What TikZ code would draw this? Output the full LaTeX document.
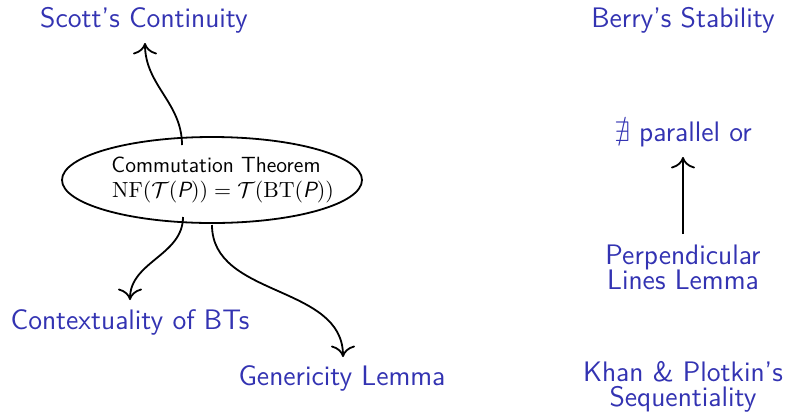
\documentclass[tikz,border=0pt]{standalone}
\usepackage{amssymb}
\usetikzlibrary{shapes.geometric,arrows.meta}
\definecolor{myblue}{RGB}{51,51,178}
\newcommand{\lblfont}{\sffamily\fontsize{14.1}{12.6}\selectfont\lineskiplimit=-20pt\relax}
\begin{document}
\begin{tikzpicture}[x=0.5pt,y=-0.5pt,
  lbl/.style={text=myblue, font=\lblfont, align=center, inner sep=0pt},
  inner/.style={font=\sffamily\fontsize{11}{12}\selectfont, inner sep=0pt, anchor=base},
  arr/.style={-{To[scale=1.6]}, line width=0.9pt}]
\useasboundingbox (0,0) rectangle (788,414);
\node[lbl] (scott) at (144,20) {Scott’s Continuity};
\node[lbl] (berry) at (683,20) {Berry’s Stability};
\node[lbl] (par) at (683,134) {$\nexists$ parallel or};
\node[lbl] (perp) at (683,267) {Perpendicular\\Lines Lemma};
\node[lbl] (ctx) at (130,322) {Contextuality of BTs};
\node[lbl] (gen) at (342,378) {Genericity Lemma};
\node[lbl] (khan) at (683,387) {Khan \& Plotkin’s\\Sequentiality};
\node[draw, line width=0.9pt, ellipse, minimum width=150pt, minimum height=43pt, inner sep=0pt] (ct) at (212,180) {};
\node[inner] (ctt) at (216,172) {Commutation Theorem};
\node[inner] (ctf) at (223,197) {$\mathrm{NF}(\mathcal{T}(\textsf{\itshape P})) = \mathcal{T}(\mathrm{BT}(\textsf{\itshape P}))$};
\coordinate (a1) at (182,145);
\coordinate (t1) at (145,43);
\coordinate (a2) at (183,217);
\coordinate (t2) at (130,300);
\coordinate (a3) at (212,225);
\coordinate (t3) at (343,357);
\coordinate (a4) at (683,234);
\coordinate (t4) at (683,157);
\draw[arr] (a1) to[out=90,in=-90] (t1);
\draw[arr] (a2) to[out=-90,in=90] (t2);
\draw[arr] (a3) to[out=-90,in=90] (t3);
\draw[arr] (a4) -- (t4);
\end{tikzpicture}
\end{document}
